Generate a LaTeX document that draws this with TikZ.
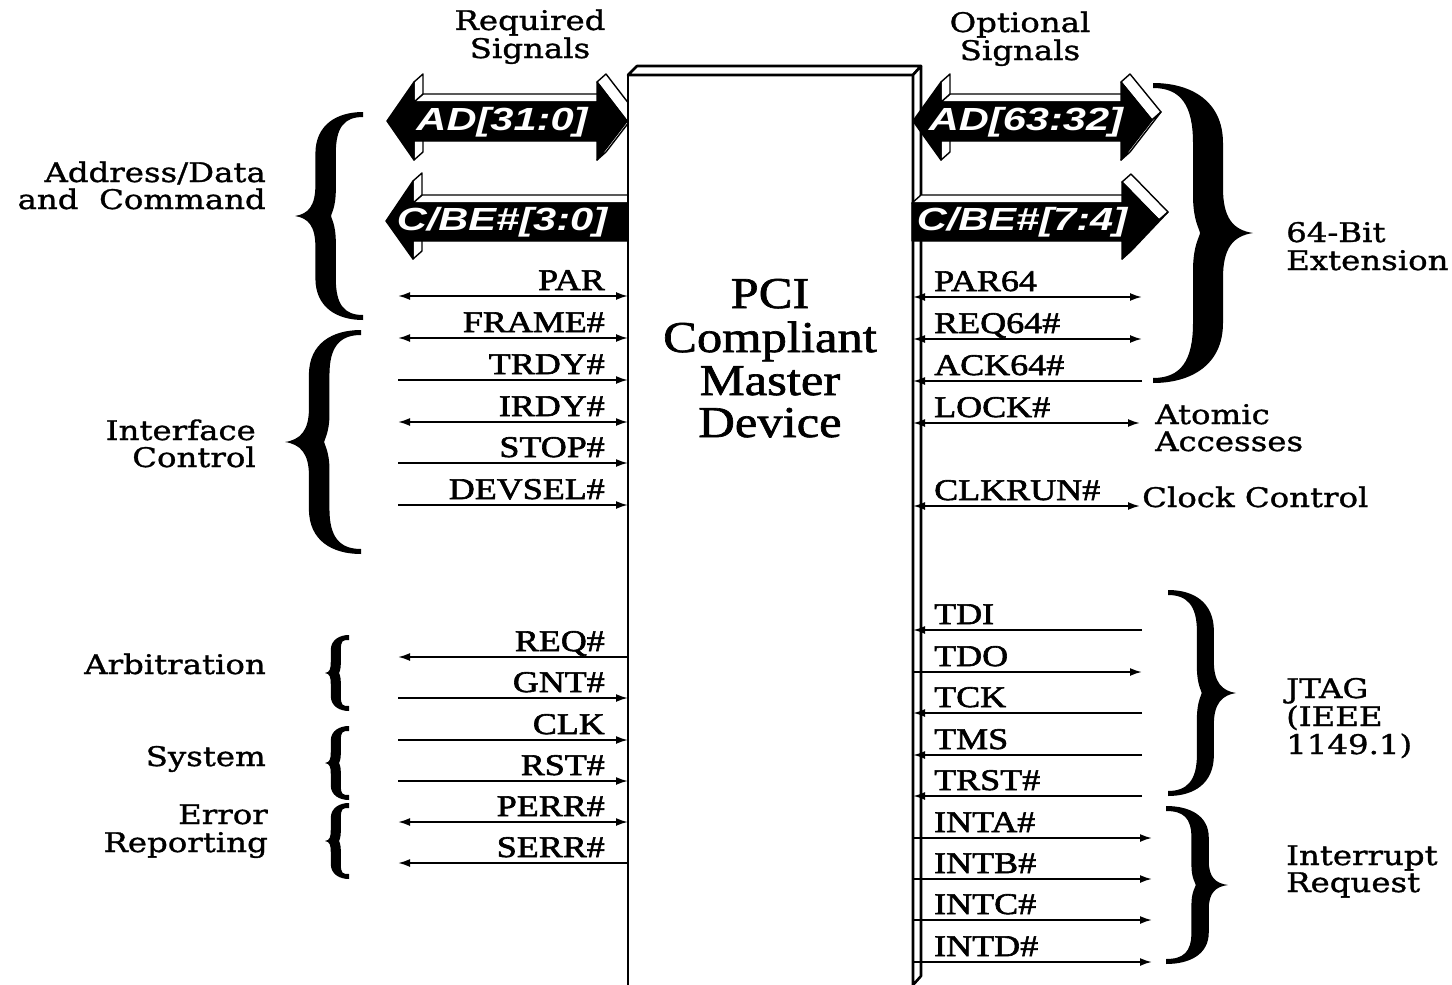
\documentclass[tikz,border=0pt]{standalone}
\usepackage{fontspec}
\setmainfont{Liberation Serif}
\newfontfamily\sigfont[FakeStretch=1.2,FakeBold=2]{Liberation Serif}
\newfontfamily\devfont[FakeStretch=1.15,FakeBold=1.5]{Liberation Serif}
\newfontfamily\grpfont[FakeStretch=1.2,FakeBold=1.2]{DejaVu Serif}
\newfontfamily\arrfont[FakeStretch=1.3]{Liberation Sans}
\usetikzlibrary{arrows.meta,calc}

\tikzset{
  sig/.style={line width=1.9pt},
  toDev/.style={-{Latex[length=12pt,width=8pt]}},
  fromDev/.style={{Latex[length=12pt,width=8pt]}-},
  bidir/.style={{Latex[length=12pt,width=8pt]}-{Latex[length=12pt,width=8pt]}},
  siglab/.style={font=\sigfont\fontsize{30}{30}\selectfont, inner sep=0pt},
  grplab/.style={font=\grpfont\fontsize{27}{27}\selectfont, inner sep=0pt},
  devlab/.style={font=\devfont\fontsize{44}{44}\selectfont, inner sep=0pt},
  arrlab/.style={font=\arrfont\bfseries\itshape\fontsize{32}{32}\selectfont, text=white, inner sep=0pt},
  faceS/.style={fill=white, draw=black, line width=1.4pt, line join=round},
  bigarrow/.style={fill=black, draw=black, line width=1.4pt, line join=round},
  boxS/.style={draw=black, fill=white, line width=2.6pt, line join=round},
}

\newcommand\face[2]{\filldraw[faceS] (#1) -- (#2) -- ([shift={(9,-8)}]#2) -- ([shift={(9,-8)}]#1) -- cycle;}

% tip x, centre y, signed width, half height, stroke thickness (fraction of width)
\newcommand\gbrace[5]{%
  \pgfmathsetmacro\bxo{0.45-#5/2}%
  \pgfmathsetmacro\bxi{0.45+#5/2}%
  \pgfmathsetmacro\bxn{0.45+#5/2-0.07}%
  \pgfmathsetmacro\bet{1-5/#4}%
  \begin{scope}[shift={(#1,#2)},xscale=#3,yscale=#4]
    \fill[black] (1,-1) .. controls (0.62,-1) and (\bxo,-0.88) .. (\bxo,-0.6)
      -- (\bxo,-0.3) .. controls (\bxo,-0.1) and (0.2,-0.02) .. (0,0)
      .. controls (0.2,0.02) and (\bxo,0.1) .. (\bxo,0.3)
      -- (\bxo,0.6) .. controls (\bxo,0.88) and (0.62,1) .. (1,1)
      -- (1,\bet) .. controls (0.72,\bet) and (\bxi,0.85) .. (\bxi,0.6)
      -- (\bxi,0.25) .. controls (\bxi,0.08) and (\bxn,0.02) .. (\bxn,0)
      .. controls (\bxn,-0.02) and (\bxi,-0.08) .. (\bxi,-0.25)
      -- (\bxi,-0.6) .. controls (\bxi,-0.85) and (0.72,-\bet) .. (1,-\bet) -- cycle;
  \end{scope}}

\begin{document}
\begin{tikzpicture}[x=1pt,y=-1pt]
\fill[white] (0,0) rectangle (1452,985);
\useasboundingbox (0,0) rectangle (1452,985);

% ---------- left big arrows ----------
\coordinate (a1) at (387,121);  \coordinate (a2) at (414,82);
\coordinate (a3) at (414,102);  \coordinate (a4) at (597,102);
\coordinate (a5) at (597,82);   \coordinate (a6) at (627,121);
\coordinate (a7) at (597,160);  \coordinate (a8) at (597,141);
\coordinate (a9) at (414,141);  \coordinate (a10) at (414,160);
\face{a3}{a4}\face{a2}{a3}\face{a5}{a6}\face{a6}{a7}\face{a9}{a10}
\filldraw[bigarrow] (a1) -- (a2) -- (a3) -- (a4) -- (a5) -- (a6) -- (a7) -- (a8) -- (a9) -- (a10) -- cycle;
\node[arrlab] (adlo) at (502,122) {AD[31:0]};

\coordinate (c1) at (386,221);  \coordinate (c2) at (413,181);
\coordinate (c3) at (413,203);  \coordinate (c4) at (630,203);
\coordinate (c5) at (630,241);  \coordinate (c6) at (413,241);
\coordinate (c7) at (413,259);
\face{c3}{c4}\face{c2}{c3}\face{c6}{c7}
\filldraw[bigarrow] (c1) -- (c2) -- (c3) -- (c4) -- (c5) -- (c6) -- (c7) -- cycle;
\node[arrlab] (cbelo) at (502,222) {C/BE\#[3:0]};

% ---------- device box ----------
\node[boxS, minimum width=285pt, minimum height=940pt, anchor=north west, outer sep=0pt, inner sep=0pt] (dev) at (628,75) {};
\filldraw[boxS] (dev.north west) -- ++(9,-9) -- ($(dev.north east)+(8,-9)$) -- (dev.north east) -- cycle;
\filldraw[boxS] (dev.north east) -- ++(8,-9) -- (921,976) -- (913,985) -- cycle;
\node[devlab, anchor=base] (d1) at (770,308) {PCI};
\node[devlab, anchor=base] (d2) at (770,352) {Compliant};
\node[devlab, anchor=base] (d3) at (770,395) {Master};
\node[devlab, anchor=base] (d4) at (770,437) {Device};

% ---------- right big arrows ----------
\coordinate (b1) at (913,121);  \coordinate (b2) at (941,82);
\coordinate (b3) at (941,102);  \coordinate (b4) at (1121,102);
\coordinate (b5) at (1121,82);  \coordinate (b6) at (1152,120);
\coordinate (b7) at (1121,160); \coordinate (b8) at (1121,141);
\coordinate (b9) at (941,141);  \coordinate (b10) at (941,160);
\face{b3}{b4}\face{b2}{b3}\face{b5}{b6}\face{b6}{b7}\face{b9}{b10}
\filldraw[bigarrow] (b1) -- (b2) -- (b3) -- (b4) -- (b5) -- (b6) -- (b7) -- (b8) -- (b9) -- (b10) -- cycle;
\node[arrlab] (adhi) at (1026,122) {AD[63:32]};

\coordinate (e1) at (912,203);  \coordinate (e2) at (1122,203);
\coordinate (e3) at (1122,182); \coordinate (e4) at (1159,220);
\coordinate (e5) at (1122,259); \coordinate (e6) at (1122,241);
\coordinate (e7) at (912,241);
\face{e1}{e2}\face{e3}{e4}\face{e4}{e5}
\filldraw[bigarrow] (e1) -- (e2) -- (e3) -- (e4) -- (e5) -- (e6) -- (e7) -- cycle;
\node[arrlab] (cbehi) at (1022,222) {C/BE\#[7:4]};

% ---------- left signals ----------
\foreach \t/\yy/\s [count=\i] in {PAR/296/bidir, FRAME\#/338/bidir, TRDY\#/380/toDev, IRDY\#/422/bidir, STOP\#/463/toDev, DEVSEL\#/505/toDev, REQ\#/657/fromDev, GNT\#/698/toDev, CLK/740/toDev, RST\#/781/toDev, PERR\#/822/bidir, SERR\#/863/fromDev}{
  \coordinate (L\i) at (398,\yy);
  \draw[sig,\s] (L\i) -- (L\i -| dev.west);
  \node[siglab, anchor=base east] (LT\i) at (605,\yy-6) {\t};
}

% ---------- right signals ----------
\foreach \t/\yy/\xe/\s [count=\i] in {PAR64/297/1142/bidir, REQ64\#/339/1142/bidir, ACK64\#/381/1142/toDev, LOCK\#/423/1140/bidir, CLKRUN\#/506/1140/bidir, TDI/630/1142/toDev, TDO/672/1142/fromDev, TCK/713/1142/toDev, TMS/755/1142/toDev, TRST\#/796/1142/toDev, INTA\#/838/1152/fromDev, INTB\#/879/1152/fromDev, INTC\#/920/1152/fromDev, INTD\#/962/1152/fromDev}{
  \coordinate (R\i) at (\xe,\yy);
  \draw[sig,\s] (R\i) -- (R\i -| dev.east);
  \node[siglab, anchor=base west] (RT\i) at (934,\yy-6) {\t};
}

% ---------- braces ----------
\gbrace{295}{216}{68}{104}{0.3}
\gbrace{285}{442}{76}{112}{0.27}
\gbrace{325}{673}{24}{38}{0.42}
\gbrace{325}{763}{24}{37}{0.42}
\gbrace{325}{841}{24}{38}{0.42}
\gbrace{1253}{233}{-100}{150}{0.3}
\gbrace{1236}{693}{-68}{103}{0.25}
\gbrace{1228}{885}{-62}{79}{0.28}

% ---------- group labels ----------
\node[grplab, anchor=base] (req1) at (530,30) {Required};
\node[grplab, anchor=base] (req2) at (530,58) {Signals};
\node[grplab, anchor=base] (opt1) at (1020,32) {Optional};
\node[grplab, anchor=base] (opt2) at (1020,60) {Signals};
\node[grplab, anchor=base east] (g1a) at (266,182) {Address/Data};
\node[grplab, anchor=base east] (g1b) at (266,209) {and\ \ Command};
\node[grplab, anchor=base east] (g2a) at (256,440) {Interface};
\node[grplab, anchor=base east] (g2b) at (256,467) {Control};
\node[grplab, anchor=base east] (g3) at (266,674) {Arbitration};
\node[grplab, anchor=base east] (g4) at (266,766) {System};
\node[grplab, anchor=base east] (g5a) at (268,824) {Error};
\node[grplab, anchor=base east] (g5b) at (268,852) {Reporting};
\node[grplab, anchor=base west] (h1a) at (1286,242) {64-Bit};
\node[grplab, anchor=base west] (h1b) at (1286,270) {Extension};
\node[grplab, anchor=base west] (h2a) at (1155,424) {Atomic};
\node[grplab, anchor=base west] (h2b) at (1155,451) {Accesses};
\node[grplab, anchor=base west] (h3) at (1142,507) {Clock Control};
\node[grplab, anchor=base west] (h4a) at (1286,698) {JTAG};
\node[grplab, anchor=base west] (h4b) at (1286,726) {(IEEE};
\node[grplab, anchor=base west] (h4c) at (1286,754) {1149.1)};
\node[grplab, anchor=base west] (h5a) at (1286,865) {Interrupt};
\node[grplab, anchor=base west] (h5b) at (1286,892) {Request};
\end{tikzpicture}
\end{document}
